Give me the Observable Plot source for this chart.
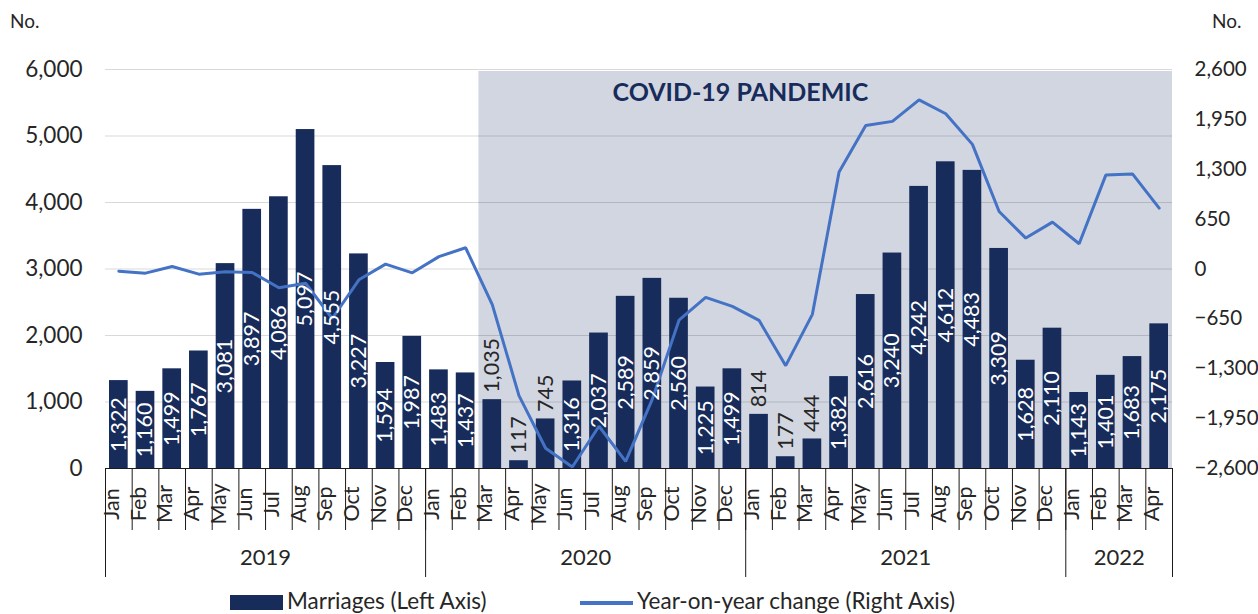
<!DOCTYPE html>
<html>
<head>
<meta charset="utf-8">
<script src="https://cdn.jsdelivr.net/npm/d3@7"></script>
<script src="https://cdn.jsdelivr.net/npm/@observablehq/plot@0.6"></script>
<style>
  html, body { margin: 0; padding: 0; background: #fff; }
  body { width: 1258px; height: 614px; overflow: hidden; font-family: Lato, "Open Sans", sans-serif; color: #262626; }
  .top { position: relative; height: 40px; }
  .top span { position: absolute; top: 9px; font-size: 19px; }
  .legend { position: relative; height: 26px; font-size: 22.5px; }
  .legend .sw { position: absolute; }
  .legend .lbl { position: absolute; top: 0; line-height: 26px; }
  svg { display: block; }
</style>
</head>
<body>
<div class="top"><span style="left:10px">No.</span><span style="left:1212px">No.</span></div>
<div id="chart"></div>
<div class="legend">
  <div class="sw" style="left:230px; top:7px; width:53px; height:15px; background:#172C5B;"></div>
  <div class="lbl" style="left:287px;">Marriages (Left Axis)</div>
  <div class="sw" style="left:580px; top:13px; width:53px; height:4px; background:#4472C4;"></div>
  <div class="lbl" style="left:637px;">Year-on-year change (Right Axis)</div>
</div>
<script>
const months = ["Jan","Feb","Mar","Apr","May","Jun","Jul","Aug","Sep","Oct","Nov","Dec"];
const years = ["2019","2020","2021","2022"];
const monthsPerYear = [12, 12, 12, 4];

const marriages2019 = [1322, 1160, 1499, 1767, 3081, 3897, 4086, 5097, 4555, 3227, 1594, 1987];
const marriages2020 = [1483, 1437, 1035, 117, 745, 1316, 2037, 2589, 2859, 2560, 1225, 1499];
const marriages2021 = [814, 177, 444, 1382, 2616, 3240, 4242, 4612, 4483, 3309, 1628, 2110];
const marriages2022 = [1143, 1401, 1683, 2175];

const yoy2019 = [-28, -54, 33, -67, -37, -46, -245, -185, -645, -141, 63, -50];
const yoy2020 = [161, 277, -464, -1650, -2336, -2581, -2049, -2508, -1696, -667, -369, -488];
const yoy2021 = [-669, -1260, -591, 1265, 1871, 1924, 2205, 2023, 1624, 749, 403, 611];
const yoy2022 = [329, 1224, 1239, 793];

const leftTicks = [0, 1000, 2000, 3000, 4000, 5000, 6000];
const rightTicks = [-2600, -1950, -1300, -650, 0, 650, 1300, 1950, 2600];
const pandemicStart = {year: "2020", month: "Mar"};
const pandemicLabel = "COVID-19 PANDEMIC";

const marriageSeries = [marriages2019, marriages2020, marriages2021, marriages2022];
const yoySeries = [yoy2019, yoy2020, yoy2021, yoy2022];

// build table
const data = [];
years.forEach((yr, yi) => {
  for (let m = 0; m < monthsPerYear[yi]; m++) {
    data.push({i: data.length, year: yr, month: months[m], value: marriageSeries[yi][m], yoy: yoySeries[yi][m]});
  }
});
const n = data.length;

// right axis range mapped onto left axis range
const leftMax = leftTicks[leftTicks.length - 1];
const rMin = rightTicks[0], rMax = rightTicks[rightTicks.length - 1];
const toLeft = v => (v - rMin) / (rMax - rMin) * leftMax;

const yearInfo = [];
let start = 0;
years.forEach((yr, yi) => { yearInfo.push({year: yr, start, end: start + monthsPerYear[yi]}); start += monthsPerYear[yi]; });
const monthBounds = d3.range(0, n + 1);
const yearBounds = [0, ...yearInfo.map(d => d.end)];

const shadeStart = data.find(d => d.year === pandemicStart.year && d.month === pandemicStart.month).i;
const fmt = d3.format(",");
const labelThreshold = 1100;

const chart = Plot.plot({
  width: 1258,
  height: 548,
  marginTop: 29,
  marginBottom: 120,
  marginLeft: 105,
  marginRight: 86,
  x: {type: "linear", domain: [0, n], axis: null},
  y: {domain: [0, leftMax], axis: null},
  style: {fontFamily: "Lato, 'Open Sans', sans-serif", color: "#262626", background: "#fff", overflow: "visible"},
  marks: [
    Plot.rect([pandemicLabel], {x1: shadeStart, x2: n, y1: 0, y2: leftMax * 0.995, fill: "#D2D6E1"}),
    Plot.ruleY(leftTicks.filter(d => d > 0), {stroke: "#000", strokeOpacity: 0.15, strokeWidth: 1}),
    Plot.rectY(data, {x1: "i", x2: d => d.i + 1, y1: 0, y2: "value", insetLeft: 4, insetRight: 4, fill: "#172C5B"}),
    Plot.ruleY([0], {stroke: "#1a1a1a", strokeWidth: 1}),
    Plot.ruleX(monthBounds, {x: d => d, y1: 0, y2: 0, insetBottom: -62, stroke: "#1a1a1a", strokeWidth: 1}),
    Plot.ruleX(yearBounds, {x: d => d, y1: 0, y2: 0, insetBottom: -109, stroke: "#1a1a1a", strokeWidth: 1}),
    Plot.line(data, {x: d => d.i + 0.5, y: d => toLeft(d.yoy), stroke: "#4472C4", strokeWidth: 3, strokeLinejoin: "miter"}),
    // data labels inside bars
    Plot.text(data.filter(d => d.value >= labelThreshold), {
      x: d => d.i + 0.5, y: d => d.value / 2, text: d => fmt(d.value),
      rotate: -90, textAnchor: "middle", fill: "#fff", fontSize: 21.5
    }),
    // data labels above short bars
    Plot.text(data.filter(d => d.value < labelThreshold), {
      x: d => d.i + 0.5, y: "value", text: d => fmt(d.value),
      rotate: -90, textAnchor: "start", dy: -7, fill: "#262626", fontSize: 21.5
    }),
    // left axis labels
    Plot.text(leftTicks, {y: d => d, text: d => fmt(d), frameAnchor: "left", textAnchor: "end", dx: -23, fontSize: 22.5, fill: "#262626"}),
    // right axis labels
    Plot.text(rightTicks, {y: d => toLeft(d), text: d => fmt(d), frameAnchor: "right", textAnchor: "start", dx: 22, fontSize: 20.5, fill: "#262626"}),
    // month labels
    Plot.text(data, {x: d => d.i + 0.5, text: "month", frameAnchor: "bottom", dy: 35.5, rotate: -90, textAnchor: "middle", fontSize: 21.5, fill: "#262626"}),
    // year labels
    Plot.text(yearInfo, {x: d => (d.start + d.end) / 2, text: "year", frameAnchor: "bottom", dy: 96, textAnchor: "middle", fontSize: 22, fill: "#262626"}),
    // annotation
    Plot.text([pandemicLabel], {x: shadeStart + 9.8, y: leftMax * 0.942, text: d => d, fontSize: 25, fontWeight: "bold", fill: "#172C5B", textAnchor: "middle"})
  ]
});
document.getElementById("chart").appendChild(chart);
</script>
</body>
</html>
